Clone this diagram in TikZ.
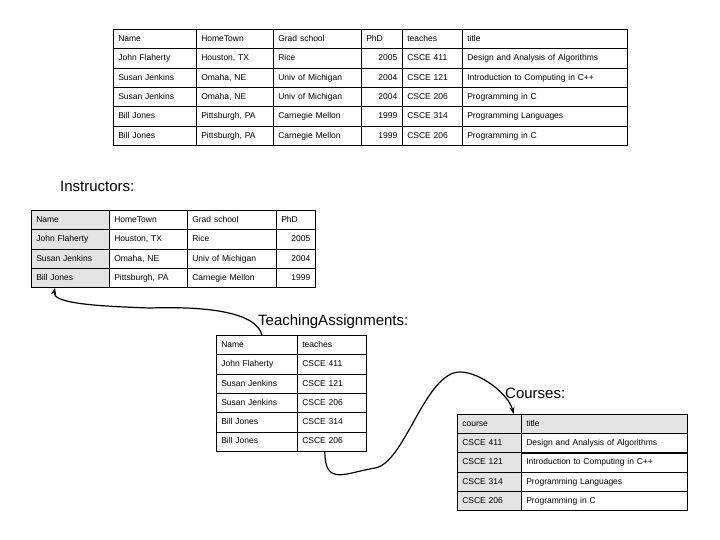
\documentclass[tikz,border=0pt]{standalone}
\usepackage{fontspec}
\setmainfont{Liberation Sans}
\usetikzlibrary{arrows.meta}
\newcommand\tc[8]{\node[cell,text width=#4-10pt,minimum width=#4,#6] (#1) at (#2,#3) {#7};}
\begin{document}
\begin{tikzpicture}[x=1pt,y=-1pt,
  cell/.style={draw,line width=0.6pt,anchor=north west,minimum height=19.3pt,inner xsep=5pt,inner ysep=0pt,font=\fontsize{8.5}{10}\selectfont,align=left,text height=6.5pt,text depth=1.5pt},
  sh/.style={fill=gray!22},
  num/.style={align=right},
  ttl/.style={font=\fontsize{15}{17}\selectfont,anchor=west,inner sep=0pt},
  link/.style={line width=1.2pt,-{Stealth[length=7pt,width=5pt]}}]
\useasboundingbox (0,0) rectangle (720,540);
% top table
\def\ra{29}\def\rb{48.33}\def\rc{67.67}\def\rd{87}\def\re{106.33}\def\rf{125.67}
\tc{a11}{113}{\ra}{83}{}{}{Name}{}\tc{a12}{196}{\ra}{77}{}{}{HomeTown}{}\tc{a13}{273}{\ra}{88}{}{}{Grad school}{}\tc{a14}{361}{\ra}{41}{}{}{PhD}{}\tc{a15}{402}{\ra}{60}{}{}{teaches}{}\tc{a16}{462}{\ra}{165}{}{}{title}{}
\tc{a21}{113}{\rb}{83}{}{}{John Flaherty}{}\tc{a22}{196}{\rb}{77}{}{}{Houston, TX}{}\tc{a23}{273}{\rb}{88}{}{}{Rice}{}\tc{a24}{361}{\rb}{41}{}{num}{2005}{}\tc{a25}{402}{\rb}{60}{}{}{CSCE 411}{}\tc{a26}{462}{\rb}{165}{}{}{Design and Analysis of Algorithms}{}
\tc{a31}{113}{\rc}{83}{}{}{Susan Jenkins}{}\tc{a32}{196}{\rc}{77}{}{}{Omaha, NE}{}\tc{a33}{273}{\rc}{88}{}{}{Univ of Michigan}{}\tc{a34}{361}{\rc}{41}{}{num}{2004}{}\tc{a35}{402}{\rc}{60}{}{}{CSCE 121}{}\tc{a36}{462}{\rc}{165}{}{}{Introduction to Computing in C++}{}
\tc{a41}{113}{\rd}{83}{}{}{Susan Jenkins}{}\tc{a42}{196}{\rd}{77}{}{}{Omaha, NE}{}\tc{a43}{273}{\rd}{88}{}{}{Univ of Michigan}{}\tc{a44}{361}{\rd}{41}{}{num}{2004}{}\tc{a45}{402}{\rd}{60}{}{}{CSCE 206}{}\tc{a46}{462}{\rd}{165}{}{}{Programming in C}{}
\tc{a51}{113}{\re}{83}{}{}{Bill Jones}{}\tc{a52}{196}{\re}{77}{}{}{Pittsburgh, PA}{}\tc{a53}{273}{\re}{88}{}{}{Carnegie Mellon}{}\tc{a54}{361}{\re}{41}{}{num}{1999}{}\tc{a55}{402}{\re}{60}{}{}{CSCE 314}{}\tc{a56}{462}{\re}{165}{}{}{Programming Languages}{}
\tc{a61}{113}{\rf}{83}{}{}{Bill Jones}{}\tc{a62}{196}{\rf}{77}{}{}{Pittsburgh, PA}{}\tc{a63}{273}{\rf}{88}{}{}{Carnegie Mellon}{}\tc{a64}{361}{\rf}{41}{}{num}{1999}{}\tc{a65}{402}{\rf}{60}{}{}{CSCE 206}{}\tc{a66}{462}{\rf}{165}{}{}{Programming in C}{}
% instructors
\node[ttl] (ti) at (60,186) {Instructors:};
\def\ra{210}\def\rb{229.3}\def\rc{248.6}\def\rd{267.9}
\tc{b11}{31}{\ra}{78}{}{sh}{Name}{}\tc{b12}{109}{\ra}{78}{}{}{HomeTown}{}\tc{b13}{187}{\ra}{89}{}{}{Grad school}{}\tc{b14}{276}{\ra}{39}{}{}{PhD}{}
\tc{b21}{31}{\rb}{78}{}{sh}{John Flaherty}{}\tc{b22}{109}{\rb}{78}{}{}{Houston, TX}{}\tc{b23}{187}{\rb}{89}{}{}{Rice}{}\tc{b24}{276}{\rb}{39}{}{num}{2005}{}
\tc{b31}{31}{\rc}{78}{}{sh}{Susan Jenkins}{}\tc{b32}{109}{\rc}{78}{}{}{Omaha, NE}{}\tc{b33}{187}{\rc}{89}{}{}{Univ of Michigan}{}\tc{b34}{276}{\rc}{39}{}{num}{2004}{}
\tc{b41}{31}{\rd}{78}{}{sh}{Bill Jones}{}\tc{b42}{109}{\rd}{78}{}{}{Pittsburgh, PA}{}\tc{b43}{187}{\rd}{89}{}{}{Carnegie Mellon}{}\tc{b44}{276}{\rd}{39}{}{num}{1999}{}
% teaching assignments
\node[ttl] (tt) at (258,322) {TeachingAssignments:};
\def\ra{335}\def\rb{354.3}\def\rc{373.6}\def\rd{392.9}\def\re{412.2}\def\rf{431.5}
\tc{c11}{216}{\ra}{81}{}{}{Name}{}\tc{c12}{297}{\ra}{69}{}{}{teaches}{}
\tc{c21}{216}{\rb}{81}{}{}{John Flaherty}{}\tc{c22}{297}{\rb}{69}{}{}{CSCE 411}{}
\tc{c31}{216}{\rc}{81}{}{}{Susan Jenkins}{}\tc{c32}{297}{\rc}{69}{}{}{CSCE 121}{}
\tc{c41}{216}{\rd}{81}{}{}{Susan Jenkins}{}\tc{c42}{297}{\rd}{69}{}{}{CSCE 206}{}
\tc{c51}{216}{\re}{81}{}{}{Bill Jones}{}\tc{c52}{297}{\re}{69}{}{}{CSCE 314}{}
\tc{c61}{216}{\rf}{81}{}{}{Bill Jones}{}\tc{c62}{297}{\rf}{69}{}{}{CSCE 206}{}
% courses
\node[ttl] (tco) at (505,393) {Courses:};
\def\ra{414}\def\rb{433.2}\def\rc{452.4}\def\rd{471.6}\def\re{490.8}
\tc{d11}{457}{\ra}{64}{}{sh}{course}{}\tc{d12}{521}{\ra}{166}{}{sh}{title}{}
\tc{d21}{457}{\rb}{64}{}{sh}{CSCE 411}{}\tc{d22}{521}{\rb}{166}{}{}{Design and Analysis of Algorithms}{}
\tc{d31}{457}{\rc}{64}{}{sh}{CSCE 121}{}\tc{d32}{521}{\rc}{166}{}{}{Introduction to Computing in C++}{}
\tc{d41}{457}{\rd}{64}{}{sh}{CSCE 314}{}\tc{d42}{521}{\rd}{166}{}{}{Programming Languages}{}
\tc{d51}{457}{\re}{64}{}{sh}{CSCE 206}{}\tc{d52}{521}{\re}{166}{}{}{Programming in C}{}
% links
\draw[link] ([xshift=5pt]c11.north) .. controls +(-5,-22) and +(60,-2) .. (150,308) .. controls +(-60,-2) and +(-3,15) .. ([xshift=0pt]b41.south west -| 55,0);
\draw[link] ([xshift=-7pt]c62.south) .. controls +(0,35) and +(-30,5) .. (375,468) .. controls +(30,-5) and +(-35,0) .. (460,372) .. controls +(20,0) and +(-5,-20) .. ([xshift=-8pt]d11.north east);
\end{tikzpicture}
\end{document}
